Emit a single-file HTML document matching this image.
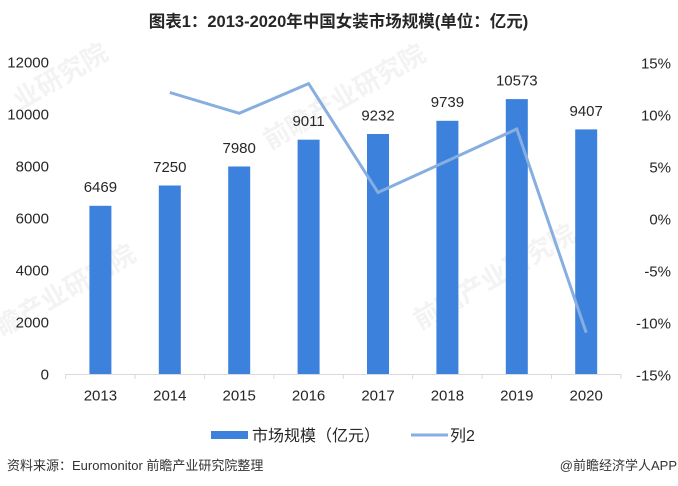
<!DOCTYPE html>
<html><head><meta charset="utf-8"><style>
html,body{margin:0;padding:0;background:#fff;}
svg{display:block;}
text{font-family:"Liberation Sans","Noto Sans CJK SC",sans-serif;}
</style></head><body>
<svg width="678" height="486" viewBox="0 0 678 486" xmlns="http://www.w3.org/2000/svg">
<rect width="678" height="486" fill="#fff"/>
<!-- watermarks -->
<g fill="#f3f3f3" font-size="26" font-weight="bold">
<text transform="translate(20,110) rotate(-30)">业研究院</text>
<text transform="translate(270,150) rotate(-30)">前瞻产业研究院</text>
<text transform="translate(420,330) rotate(-30)">前瞻产业研究院</text>
<text transform="translate(-20,350) rotate(-30)">前瞻产业研究院</text>
</g>
<!-- title -->
<text x="338.5" y="27" font-size="16.5" font-weight="bold" fill="#262626" text-anchor="middle">图表1：2013-2020年中国女装市场规模(单位：亿元)</text>
<!-- left axis labels -->
<g font-size="15" fill="#262626" text-anchor="end">
<text x="49" y="67.4">12000</text>
<text x="49" y="119.4">10000</text>
<text x="49" y="171.4">8000</text>
<text x="49" y="223.4">6000</text>
<text x="49" y="275.4">4000</text>
<text x="49" y="327.4">2000</text>
<text x="49" y="379.4">0</text>
</g>
<!-- right axis labels -->
<g font-size="15" fill="#262626" text-anchor="end">
<text x="671" y="68.4">15%</text>
<text x="671" y="120.4">10%</text>
<text x="671" y="172.4">5%</text>
<text x="671" y="224.4">0%</text>
<text x="671" y="276.4">-5%</text>
<text x="671" y="328.4">-10%</text>
<text x="671" y="380.4">-15%</text>
</g>
<!-- bars -->
<g fill="#3c82dc">
<rect x="89.4" y="205.8" width="22" height="168.2"/>
<rect x="158.8" y="185.5" width="22" height="188.5"/>
<rect x="228.2" y="166.5" width="22" height="207.5"/>
<rect x="297.6" y="139.7" width="22" height="234.3"/>
<rect x="367" y="134" width="22" height="240"/>
<rect x="436.4" y="120.8" width="22" height="253.2"/>
<rect x="505.8" y="99.1" width="22" height="274.9"/>
<rect x="575.2" y="129.4" width="22" height="244.6"/>
</g>
<!-- axis -->
<g stroke="#d9d9d9" stroke-width="1">
<line x1="65.7" y1="374.5" x2="621" y2="374.5"/>
<line x1="65.7" y1="374" x2="65.7" y2="379"/>
<line x1="135.1" y1="374" x2="135.1" y2="379"/>
<line x1="204.5" y1="374" x2="204.5" y2="379"/>
<line x1="273.9" y1="374" x2="273.9" y2="379"/>
<line x1="343.3" y1="374" x2="343.3" y2="379"/>
<line x1="412.7" y1="374" x2="412.7" y2="379"/>
<line x1="482.1" y1="374" x2="482.1" y2="379"/>
<line x1="551.5" y1="374" x2="551.5" y2="379"/>
<line x1="620.9" y1="374" x2="620.9" y2="379"/>
</g>
<!-- line series -->
<polyline points="169.8,92.5 239.2,113.3 308.6,83.6 378,192.5 447.4,160.9 516.8,129 586.2,332.7" fill="none" stroke="#86aee0" stroke-width="3" stroke-linejoin="miter"/>
<!-- data labels -->
<g font-size="15" fill="#262626" text-anchor="middle">
<text x="100.4" y="192.2">6469</text>
<text x="169.8" y="171.9">7250</text>
<text x="239.2" y="152.9">7980</text>
<text x="308.6" y="126.1">9011</text>
<text x="378" y="120.4">9232</text>
<text x="447.4" y="107.2">9739</text>
<text x="516.8" y="85.5">10573</text>
<text x="586.2" y="115.8">9407</text>
</g>
<!-- x labels -->
<g font-size="15" fill="#262626" text-anchor="middle">
<text x="100.4" y="400.4">2013</text>
<text x="169.8" y="400.4">2014</text>
<text x="239.2" y="400.4">2015</text>
<text x="308.6" y="400.4">2016</text>
<text x="378" y="400.4">2017</text>
<text x="447.4" y="400.4">2018</text>
<text x="516.8" y="400.4">2019</text>
<text x="586.2" y="400.4">2020</text>
</g>
<!-- legend -->
<rect x="211" y="431" width="37" height="8" fill="#3c82dc"/>
<text x="252" y="441" font-size="16" fill="#262626">市场规模（亿元）</text>
<line x1="411" y1="435" x2="448" y2="435" stroke="#86aee0" stroke-width="3"/>
<text x="450" y="441" font-size="16" fill="#262626">列2</text>
<!-- footer -->
<text x="7" y="470" font-size="13" fill="#333">资料来源：Euromonitor 前瞻产业研究院整理</text>
<text x="677" y="470" font-size="13" fill="#333" text-anchor="end">@前瞻经济学人APP</text>
</svg>
</body></html>
